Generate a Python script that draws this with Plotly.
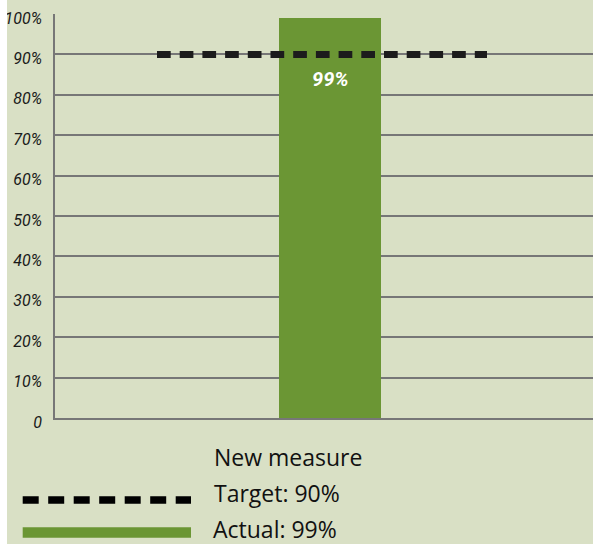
import plotly.graph_objects as go

# ---- data ----
categories = ["New measure"]
actual_values = [99]
target_values = [90]
tick_values = [0, 10, 20, 30, 40, 50, 60, 70, 80, 90, 100]
tick_labels = ["0", "10%", "20%", "30%", "40%", "50%", "60%", "70%", "80%", "90%", "100%"]
legend_title = categories[0]
legend_target = f"Target: {target_values[0]}%"
legend_actual = f"Actual: {actual_values[0]}%"
bar_label = f"{actual_values[0]}%"

# ---- layout constants ----
W, H = 593, 544
L, R, T, B = 55, 0, 14, 126
PW = W - L - R
PH = H - T - B

BG = "#d9e0c5"
GREEN = "#6b9634"
GRID = "#777777"
DARK = "#1c1c1c"
TICKFONT = "Roboto, Liberation Sans, sans-serif"
SANS = "Open Sans, Noto Sans, sans-serif"


def xp(px):
    return (px - L) / PW


def yp(py):
    return (H - B - py) / PH


# x axis in units of plot width; bar centred at x=0
x_range = [-(330 - L) / PW, (W - R - 330) / PW]
bar_width = 102 / PW
target_x = [(157 - 330) / PW, (487 - 330) / PW]

fig = go.Figure()

fig.add_trace(go.Bar(
    x=[0] * len(actual_values), y=actual_values, width=bar_width,
    marker=dict(color=GREEN, line=dict(width=0)),
    name=legend_actual, hovertext=categories, showlegend=False,
))

fig.add_trace(go.Scatter(
    x=target_x, y=[target_values[0]] * 2, mode="lines",
    line=dict(color=DARK, width=7, dash="13.7px,9px"),
    name=legend_target, showlegend=False,
))

annotations = [
    dict(x=0, y=actual_values[0], xref="x", yref="y", text=bar_label,
         showarrow=False, yanchor="middle", yshift=-(79 - 18),
         font=dict(family=TICKFONT, size=20, color="white", weight="bold", style="italic")),
    dict(x=xp(212), y=yp(457), xref="paper", yref="paper", text=legend_title,
         showarrow=False, xanchor="left", yanchor="middle",
         font=dict(family=SANS, size=23, color="#111111")),
    dict(x=xp(212), y=yp(492.5), xref="paper", yref="paper", text=legend_target,
         showarrow=False, xanchor="left", yanchor="middle",
         font=dict(family=SANS, size=23, color="#111111")),
    dict(x=xp(212), y=yp(528.5), xref="paper", yref="paper", text=legend_actual,
         showarrow=False, xanchor="left", yanchor="middle", borderpad=0,
         font=dict(family=SANS, size=23, color="#111111")),
]

shapes = [
    dict(type="rect", xref="paper", yref="paper", x0=xp(0), x1=xp(7), y0=yp(H), y1=yp(0),
         fillcolor="white", line=dict(width=0), layer="above"),
    dict(type="line", xref="paper", yref="paper", x0=xp(22.7), x1=xp(191), y0=yp(500), y1=yp(500),
         line=dict(color="black", width=7.5, dash="16px,9.5px")),
    dict(type="line", xref="paper", yref="paper", x0=xp(22.7), x1=xp(191), y0=yp(532.5), y1=yp(532.5),
         line=dict(color=GREEN, width=10.5)),
]

fig.update_layout(
    width=W, height=H,
    margin=dict(l=L, r=R, t=T, b=B, pad=0),
    paper_bgcolor=BG, plot_bgcolor=BG,
    showlegend=False,
    annotations=annotations,
    shapes=shapes,
    xaxis=dict(range=x_range, showgrid=False, zeroline=False, showticklabels=False,
               showline=True, linecolor=GRID, linewidth=1.5, fixedrange=True),
    yaxis=dict(range=[0, 100], tickvals=tick_values, ticktext=tick_labels,
               showgrid=True, gridcolor=GRID, gridwidth=1.5, zeroline=False,
               showline=True, linecolor=GRID, linewidth=1.5, ticks="",
               ticklabelstandoff=8, ticklabelshift=4,
               tickfont=dict(family=TICKFONT, size=16, color="#1a1a1a", style="italic")),
)

fig.write_html("out.html")
